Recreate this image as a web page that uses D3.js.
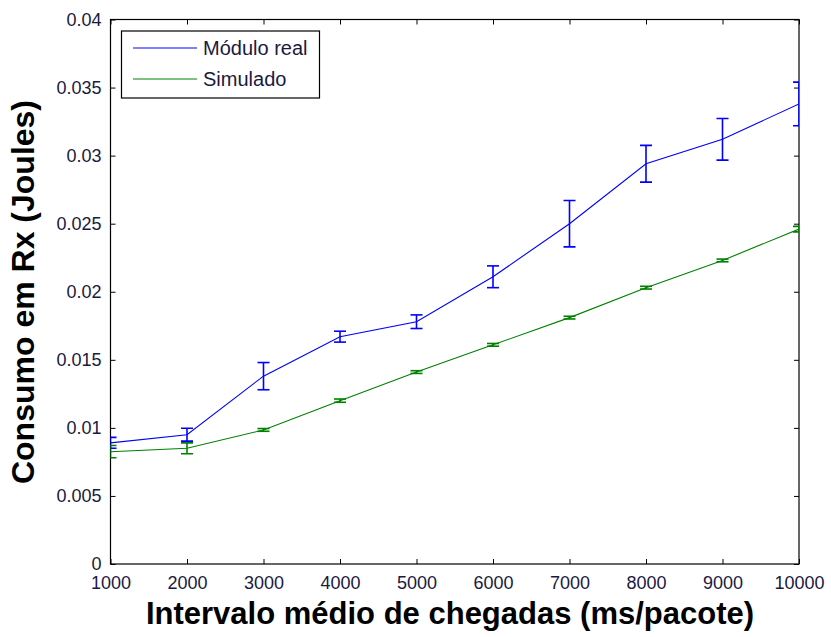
<!DOCTYPE html>
<html>
<head>
<meta charset="utf-8">
<script src="https://cdn.jsdelivr.net/npm/d3@7"></script>
<style>
  html, body { margin: 0; padding: 0; background: #fff; }
  svg { display: block; }
  text { font-family: "Liberation Sans", Arial, sans-serif; }
</style>
</head>
<body>
<svg id="chart" width="831" height="637"></svg>
<script>
// Mean interval between arrivals (ms/packet)
const intervals = [1000, 2000, 3000, 4000, 5000, 6000, 7000, 8000, 9000, 10000];

// Rx energy consumption (Joules): measured module
const realMean = [0.0089, 0.0095, 0.0138, 0.0167, 0.0178, 0.0211, 0.0250, 0.0294, 0.0312, 0.0338];
const realErr  = [0.0004, 0.00047, 0.0010, 0.0004, 0.0005, 0.0008, 0.0017, 0.00135, 0.00153, 0.0016];

// Rx energy consumption (Joules): simulation
const simMean = [0.00825, 0.0085, 0.00985, 0.0120, 0.0141, 0.0161, 0.0181, 0.0203, 0.0223, 0.0246];
const simErr  = [0.00045, 0.0004, 0.0001, 0.00012, 0.0001, 0.0001, 0.0001, 0.0001, 0.0001, 0.0002];

const xTicks = [1000, 2000, 3000, 4000, 5000, 6000, 7000, 8000, 9000, 10000];
const yTicks = [0, 0.005, 0.01, 0.015, 0.02, 0.025, 0.03, 0.035, 0.04];
const yTickLabels = ["0", "0.005", "0.01", "0.015", "0.02", "0.025", "0.03", "0.035", "0.04"];

const seriesNames = ["Módulo real", "Simulado"];
const seriesColors = ["#0000ff", "#008000"];

const svg = d3.select("#chart");
const plotL = 110.5, plotR = 799, plotT = 19.5, plotB = 564;

const x = d3.scaleLinear().domain([1000, 10000]).range([plotL, plotR]);
const y = d3.scaleLinear().domain([0, 0.04]).range([plotB, plotT]);

// Clip for data marks
svg.append("defs").append("clipPath").attr("id", "plotclip")
  .append("rect").attr("x", plotL).attr("y", plotT)
  .attr("width", plotR - plotL).attr("height", plotB - plotT);

// Axes (ticks pointing inward, mirrored on all sides)
const tickLen = 5;
const fontSize = 18;

const axB = svg.append("g").attr("transform", `translate(0,${plotB})`)
  .call(d3.axisBottom(x).tickValues(xTicks).tickSizeInner(-tickLen).tickSizeOuter(0).tickPadding(12).tickFormat(d3.format("d")));
const axT = svg.append("g").attr("transform", `translate(0,${plotT})`)
  .call(d3.axisTop(x).tickValues(xTicks).tickSizeInner(-tickLen).tickSizeOuter(0).tickFormat(""));
const axL = svg.append("g").attr("transform", `translate(${plotL},0)`)
  .call(d3.axisLeft(y).tickValues(yTicks).tickSizeInner(-tickLen).tickSizeOuter(0).tickPadding(9)
    .tickFormat((d, i) => yTickLabels[i]));
const axR = svg.append("g").attr("transform", `translate(${plotR},0)`)
  .call(d3.axisRight(y).tickValues(yTicks).tickSizeInner(-tickLen).tickSizeOuter(0).tickFormat(""));

[axB, axT, axL, axR].forEach(g => {
  g.select(".domain").remove();
  g.selectAll(".tick line").attr("stroke", "#000").attr("stroke-width", 1);
  g.selectAll("text").attr("fill", "#1a1a40").style("font-size", fontSize + "px")
    .style("font-family", "'Liberation Sans', Arial, sans-serif");
});

// Frame
svg.append("rect").attr("x", plotL).attr("y", plotT)
  .attr("width", plotR - plotL).attr("height", plotB - plotT)
  .attr("fill", "none").attr("stroke", "#000").attr("stroke-width", 1.2);

// Series
const series = [
  { mean: realMean, err: realErr, color: seriesColors[0] },
  { mean: simMean, err: simErr, color: seriesColors[1] }
];

const plot = svg.append("g").attr("clip-path", "url(#plotclip)");
const line = d3.line().x((d, i) => x(intervals[i])).y(d => y(d));
const capHalf = 6;

series.forEach(s => {
  plot.append("path").datum(s.mean)
    .attr("d", line).attr("fill", "none")
    .attr("stroke", s.color).attr("stroke-width", 1.1);
  const eb = plot.append("g").attr("stroke", s.color).attr("stroke-width", 1.6);
  s.mean.forEach((m, i) => {
    const cx = x(intervals[i]);
    const y1 = y(m + s.err[i]), y0 = y(m - s.err[i]);
    eb.append("line").attr("x1", cx).attr("x2", cx).attr("y1", y1).attr("y2", y0);
    eb.append("line").attr("x1", cx - capHalf).attr("x2", cx + capHalf).attr("y1", y1).attr("y2", y1);
    eb.append("line").attr("x1", cx - capHalf).attr("x2", cx + capHalf).attr("y1", y0).attr("y2", y0);
  });
});

// Legend
const lg = svg.append("g");
lg.append("rect").attr("x", 121.5).attr("y", 31).attr("width", 198).attr("height", 67)
  .attr("fill", "#fff").attr("stroke", "#000").attr("stroke-width", 1.2);
seriesNames.forEach((name, i) => {
  const ly = 48 + i * 31;
  lg.append("line").attr("x1", 133).attr("x2", 197).attr("y1", ly).attr("y2", ly)
    .attr("stroke", seriesColors[i]).attr("stroke-width", 1.2);
  lg.append("text").attr("x", 203).attr("y", ly + 7).attr("fill", "#1a1a40")
    .style("font-size", "20px").text(name);
});

// Axis titles
svg.append("text").attr("x", 450).attr("y", 624)
  .attr("text-anchor", "middle").attr("font-weight", "bold").style("font-size", "31px")
  .attr("fill", "#000").text("Intervalo médio de chegadas (ms/pacote)");
svg.append("text").attr("transform", `translate(34,292) rotate(-90)`)
  .attr("text-anchor", "middle").attr("font-weight", "bold").style("font-size", "32px")
  .attr("fill", "#000").text("Consumo em Rx (Joules)");
</script>
</body>
</html>
